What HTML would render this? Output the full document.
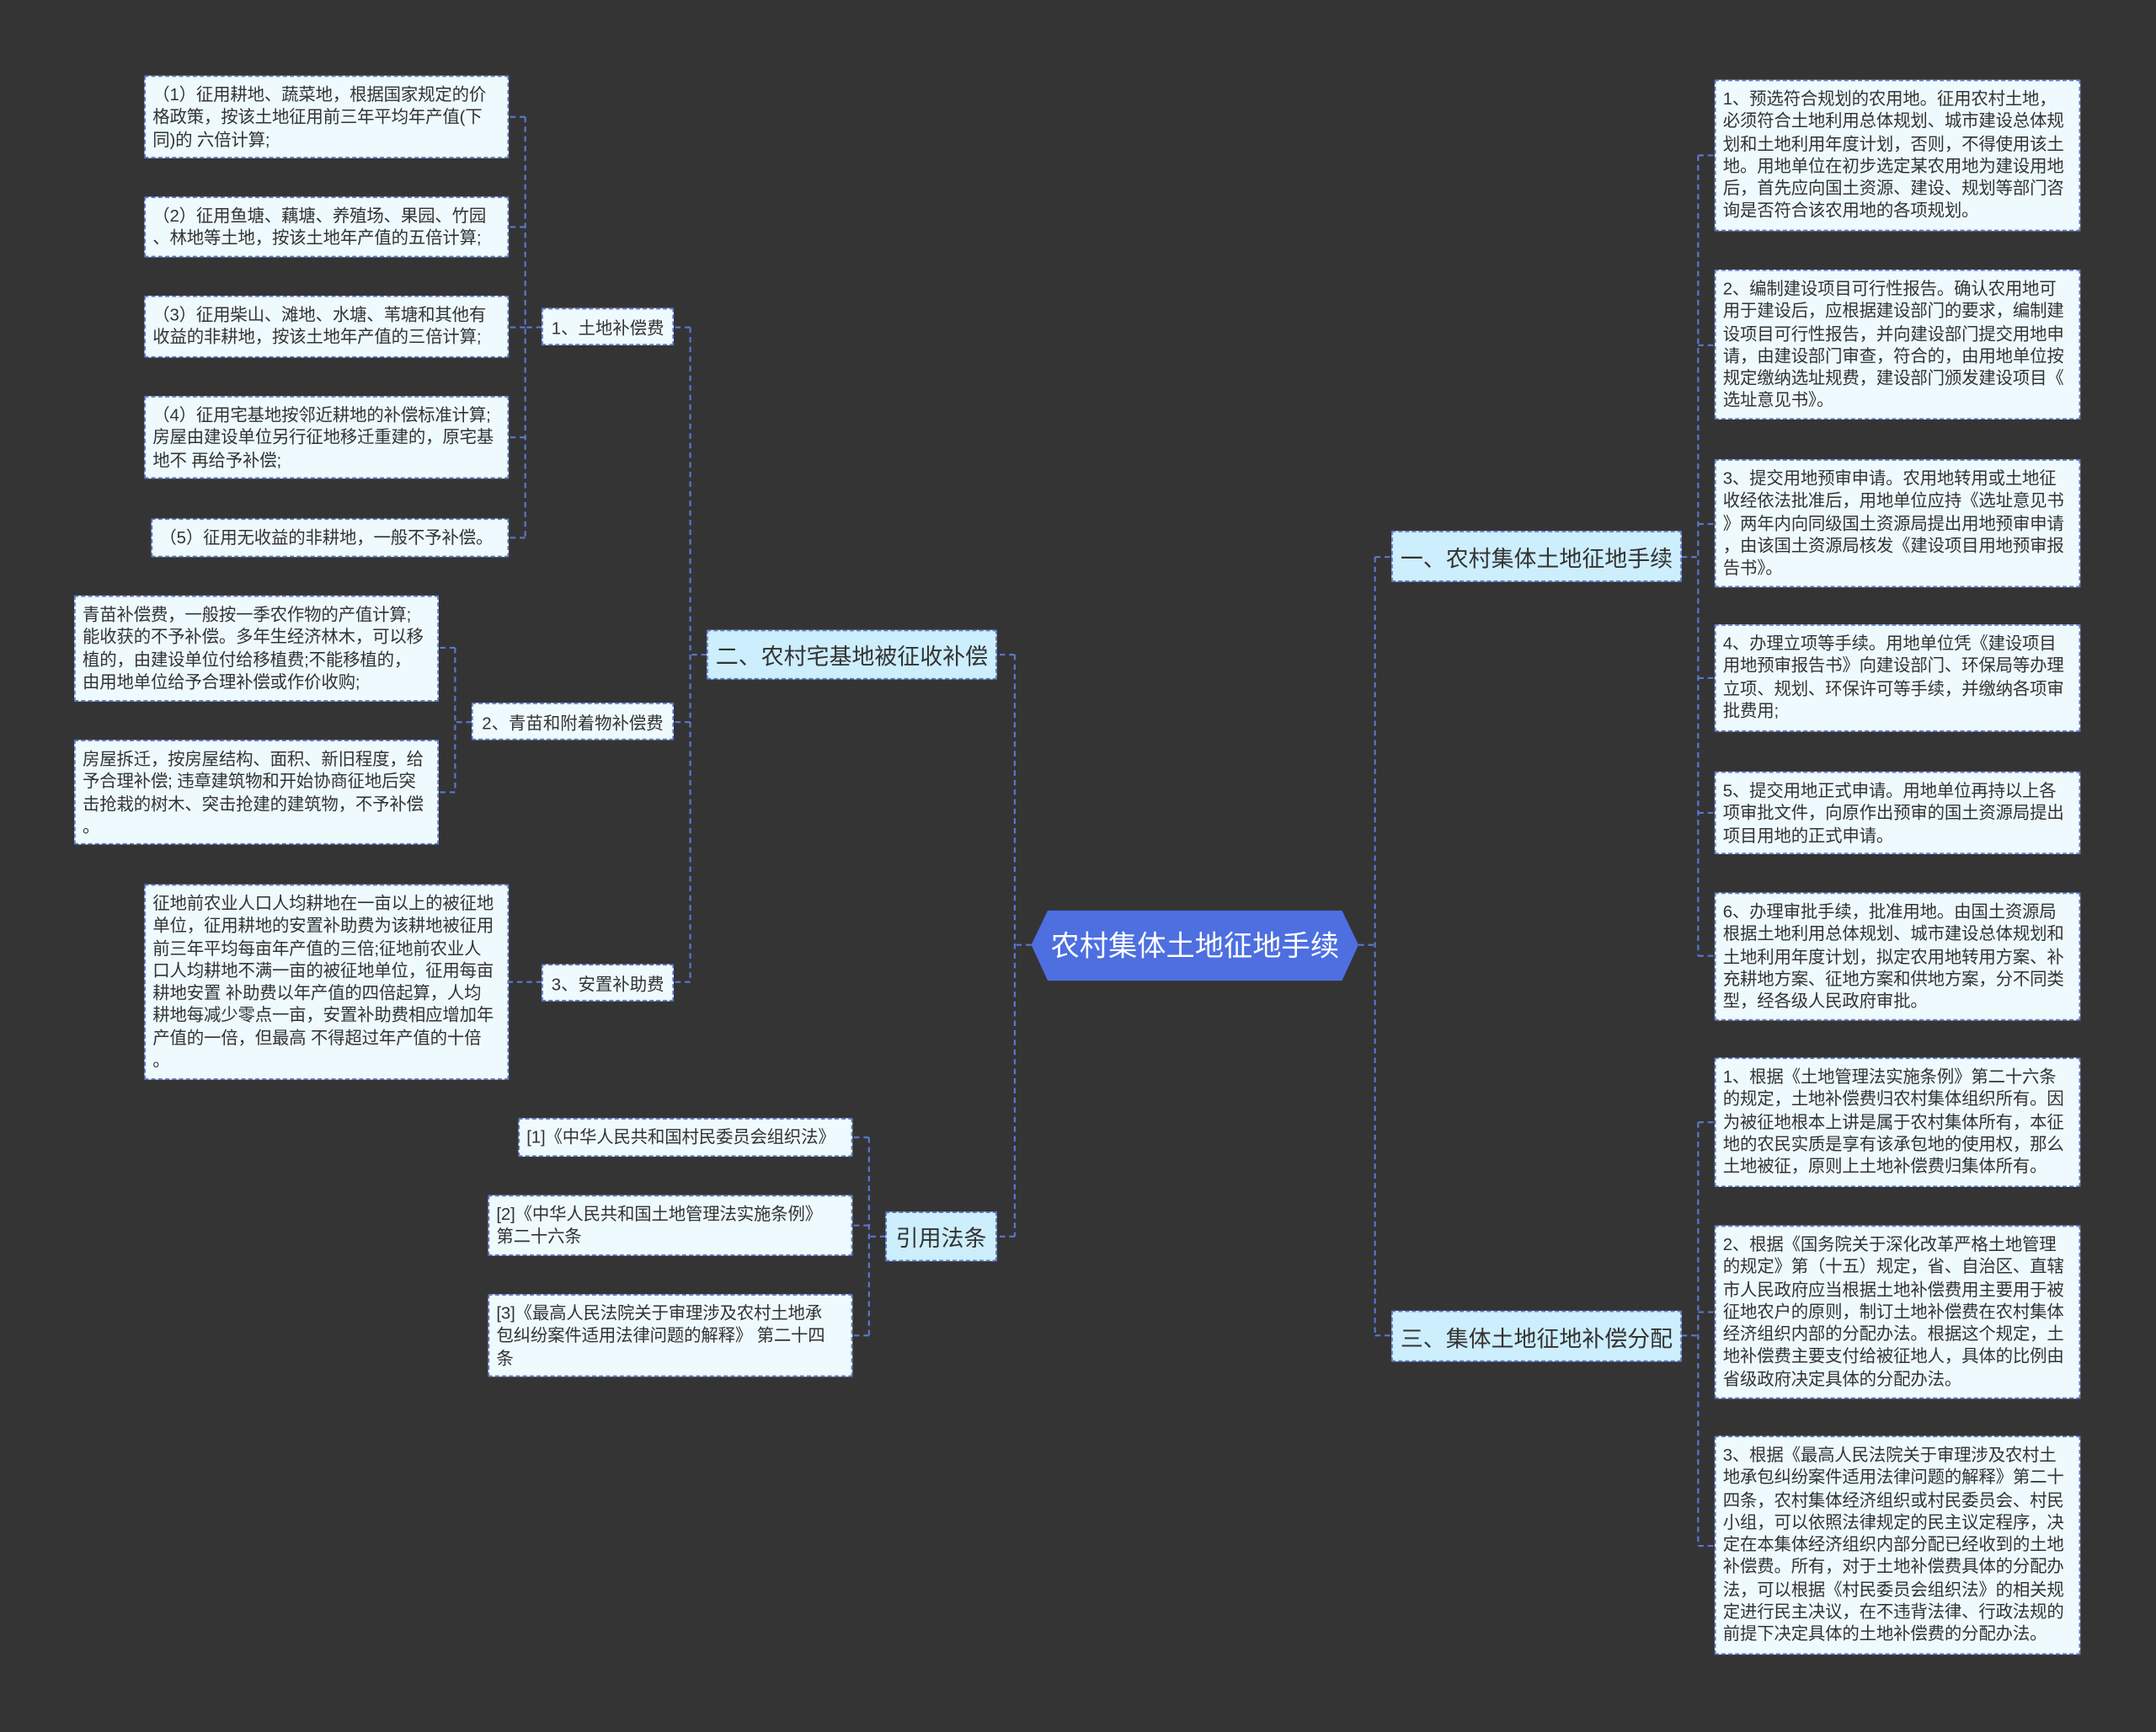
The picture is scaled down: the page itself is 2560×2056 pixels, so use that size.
<!DOCTYPE html>
<html><head><meta charset="utf-8">
<style>
html,body{margin:0;padding:0;background:#353435;}
body{width:2560px;height:2055px;overflow:hidden;position:relative;}
#s{position:absolute;left:0;top:0;width:1568px;height:1259px;transform:scale(1.63265);transform-origin:0 0;font-family:"Liberation Sans","Noto Sans CJK SC",sans-serif;}
.b{position:absolute;box-sizing:border-box;background:#eefafd;border:1px dashed #5b78d0;color:#333;font-size:12.5px;line-height:16.3px;padding:5px 5px;white-space:nowrap;letter-spacing:-0.1px;}
.l1{position:absolute;box-sizing:border-box;background:#cdeefc;border:1px dashed #5b78d0;color:#333;font-size:16.5px;display:flex;align-items:center;justify-content:center;white-space:nowrap;}
.l2{position:absolute;box-sizing:border-box;background:#eefafd;border:1px dashed #5b78d0;color:#333;font-size:12.5px;display:flex;align-items:center;justify-content:center;white-space:nowrap;}
svg{position:absolute;left:0;top:0;}
</style></head><body><div id="s">
<svg width="1568" height="1259"><g stroke="#5b78d0" stroke-width="1.3" stroke-dasharray="4,3" fill="none">
<path d="M988 687H1000M1000 405V971M1000 405H1012M1000 971H1012"/>
<path d="M750 687H738M738 476V899M738 476H725M738 899H725"/>
<path d="M1223 405H1235M1235 113V695M1235 113H1247M1235 251H1247M1235 381H1247M1235 493H1247M1235 591H1247M1235 695H1247"/>
<path d="M1223 971H1235M1235 816V1124M1235 816H1247M1235 954H1247M1235 1124H1247"/>
<path d="M514 476H502M502 238V714M502 238H490M502 525H490M502 714H490"/>
<path d="M394 238H382M382 85V391M382 85H370M382 165H370M382 238H370M382 318H370M382 391H370"/>
<path d="M343 525H331M331 471V576M331 471H319M331 576H319"/>
<path d="M394 714H370"/>
<path d="M644 899H632M632 827V971M632 827H620M632 891H620M632 971H620"/>
</g>
<polygon points="750,687 762,662 976,662 988,687 976,713 762,713" fill="#4d6fe0"/>
<text x="869" y="695" fill="#fff" font-size="21" text-anchor="middle" font-family="Liberation Sans,Noto Sans CJK SC,sans-serif">农村集体土地征地手续</text>
</svg>

<div class="l1" style="left:1012px;top:386px;width:211px;height:37px">一、农村集体土地征地手续</div>
<div class="l1" style="left:1012px;top:953px;width:211px;height:37px">三、集体土地征地补偿分配</div>
<div class="l1" style="left:514px;top:458px;width:211px;height:36px">二、农村宅基地被征收补偿</div>
<div class="l1" style="left:644px;top:881px;width:81px;height:36px">引用法条</div>

<div class="l2" style="left:394px;top:224px;width:96px;height:27px">1、土地补偿费</div>
<div class="l2" style="left:343px;top:511px;width:147px;height:27px">2、青苗和附着物补偿费</div>
<div class="l2" style="left:394px;top:701px;width:96px;height:27px">3、安置补助费</div>

<div class="b" style="left:105px;top:55px;width:265px;height:60px">（1）征用耕地、蔬菜地，根据国家规定的价<br>格政策，按该土地征用前三年平均年产值(下<br>同)的 六倍计算;</div>
<div class="b" style="left:105px;top:143px;width:265px;height:44px">（2）征用鱼塘、藕塘、养殖场、果园、竹园<br>、林地等土地，按该土地年产值的五倍计算;</div>
<div class="b" style="left:105px;top:215px;width:265px;height:45px">（3）征用柴山、滩地、水塘、苇塘和其他有<br>收益的非耕地，按该土地年产值的三倍计算;</div>
<div class="b" style="left:105px;top:288px;width:265px;height:60px">（4）征用宅基地按邻近耕地的补偿标准计算;<br>房屋由建设单位另行征地移迁重建的，原宅基<br>地不 再给予补偿;</div>
<div class="b" style="left:110px;top:377px;width:260px;height:28px">（5）征用无收益的非耕地，一般不予补偿。</div>
<div class="b" style="left:54px;top:433px;width:265px;height:77px">青苗补偿费，一般按一季农作物的产值计算;<br>能收获的不予补偿。多年生经济林木，可以移<br> 植的，由建设单位付给移植费;不能移植的，<br>由用地单位给予合理补偿或作价收购;</div>
<div class="b" style="left:54px;top:538px;width:265px;height:76px">房屋拆迁，按房屋结构、面积、新旧程度，给<br>予合理补偿; 违章建筑物和开始协商征地后突<br>击抢栽的树木、突击抢建的建筑物，不予补偿<br>。</div>
<div class="b" style="left:105px;top:643px;width:265px;height:142px">征地前农业人口人均耕地在一亩以上的被征地<br>单位，征用耕地的安置补助费为该耕地被征用<br> 前三年平均每亩年产值的三倍;征地前农业人<br>口人均耕地不满一亩的被征地单位，征用每亩<br>耕地安置 补助费以年产值的四倍起算，人均<br>耕地每减少零点一亩，安置补助费相应增加年<br>产值的一倍，但最高 不得超过年产值的十倍<br>。</div>

<div class="b" style="left:377px;top:813px;width:243px;height:28px">[1]《中华人民共和国村民委员会组织法》</div>
<div class="b" style="left:355px;top:869px;width:265px;height:44px">[2]《中华人民共和国土地管理法实施条例》<br>第二十六条</div>
<div class="b" style="left:355px;top:941px;width:265px;height:60px">[3]《最高人民法院关于审理涉及农村土地承<br>包纠纷案件适用法律问题的解释》 第二十四<br>条</div>

<div class="b" style="left:1247px;top:58px;width:266px;height:110px">1、预选符合规划的农用地。征用农村土地，<br>必须符合土地利用总体规划、城市建设总体规<br>划和土地利用年度计划，否则，不得使用该土<br>地。用地单位在初步选定某农用地为建设用地<br>后，首先应向国土资源、建设、规划等部门咨<br>询是否符合该农用地的各项规划。</div>
<div class="b" style="left:1247px;top:196px;width:266px;height:109px">2、编制建设项目可行性报告。确认农用地可<br>用于建设后，应根据建设部门的要求，编制建<br>设项目可行性报告，并向建设部门提交用地申<br>请，由建设部门审查，符合的，由用地单位按<br>规定缴纳选址规费，建设部门颁发建设项目《<br>选址意见书》。</div>
<div class="b" style="left:1247px;top:334px;width:266px;height:93px">3、提交用地预审申请。农用地转用或土地征<br>收经依法批准后，用地单位应持《选址意见书<br>》两年内向同级国土资源局提出用地预审申请<br>，由该国土资源局核发《建设项目用地预审报<br>告书》。</div>
<div class="b" style="left:1247px;top:454px;width:266px;height:78px">4、办理立项等手续。用地单位凭《建设项目<br>用地预审报告书》向建设部门、环保局等办理<br>立项、规划、环保许可等手续，并缴纳各项审<br>批费用;</div>
<div class="b" style="left:1247px;top:561px;width:266px;height:60px">5、提交用地正式申请。用地单位再持以上各<br>项审批文件，向原作出预审的国土资源局提出<br>项目用地的正式申请。</div>
<div class="b" style="left:1247px;top:649px;width:266px;height:93px">6、办理审批手续，批准用地。由国土资源局<br>根据土地利用总体规划、城市建设总体规划和<br>土地利用年度计划，拟定农用地转用方案、补<br>充耕地方案、征地方案和供地方案，分不同类<br>型，经各级人民政府审批。</div>
<div class="b" style="left:1247px;top:769px;width:266px;height:94px"> 1、根据《土地管理法实施条例》第二十六条<br>的规定，土地补偿费归农村集体组织所有。因<br>为被征地根本上讲是属于农村集体所有，本征<br>地的农民实质是享有该承包地的使用权，那么<br>土地被征，原则上土地补偿费归集体所有。</div>
<div class="b" style="left:1247px;top:891px;width:266px;height:126px"> 2、根据《国务院关于深化改革严格土地管理<br>的规定》第（十五）规定，省、自治区、直辖<br>市人民政府应当根据土地补偿费用主要用于被<br>征地农户的原则，制订土地补偿费在农村集体<br>经济组织内部的分配办法。根据这个规定，土<br>地补偿费主要支付给被征地人，具体的比例由<br>省级政府决定具体的分配办法。</div>
<div class="b" style="left:1247px;top:1044px;width:266px;height:159px"> 3、根据《最高人民法院关于审理涉及农村土<br>地承包纠纷案件适用法律问题的解释》第二十<br>四条，农村集体经济组织或村民委员会、村民<br>小组，可以依照法律规定的民主议定程序，决<br>定在本集体经济组织内部分配已经收到的土地<br>补偿费。所有，对于土地补偿费具体的分配办<br>法，可以根据《村民委员会组织法》的相关规<br>定进行民主决议，在不违背法律、行政法规的<br>前提下决定具体的土地补偿费的分配办法。</div>
</div></body></html>
